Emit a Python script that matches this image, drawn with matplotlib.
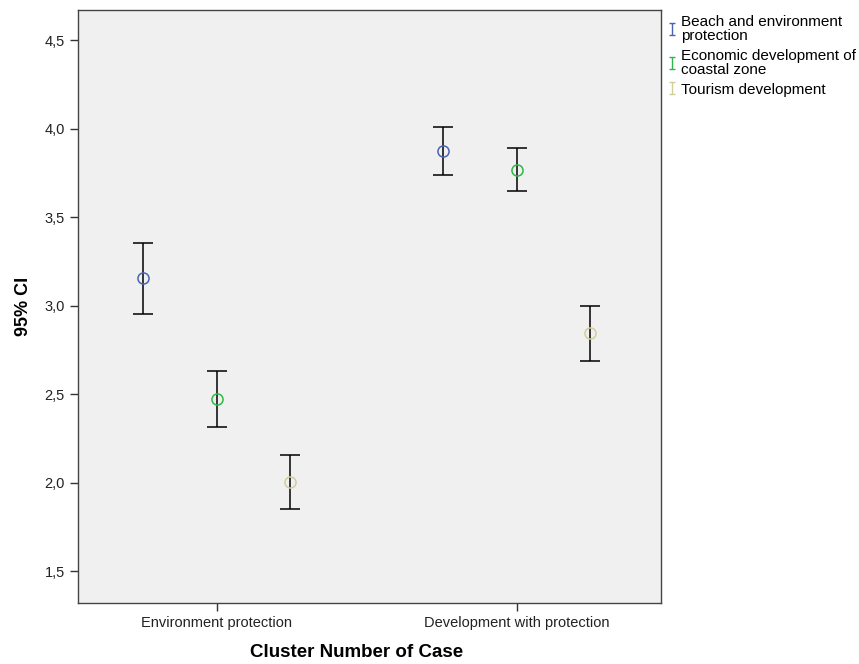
import numpy as np
import matplotlib
matplotlib.use("Agg")
import matplotlib.pyplot as plt
from matplotlib.lines import Line2D
from matplotlib.path import Path
from matplotlib.ticker import FuncFormatter

plt.rcParams['font.family'] = ['Liberation Sans', 'DejaVu Sans']

# data
clusters = ['Environment protection', 'Development with protection']
series = ['Beach and environment\nprotection', 'Economic development of\ncoastal zone', 'Tourism development']
colors = ['#4a63b4', '#2eb848', '#d3ce97']

means = [[3.155, 3.873],
         [2.472, 3.765],
         [2.003, 2.845]]
upper = [[3.353, 4.008],
         [2.630, 3.890],
         [2.155, 2.997]]
lower = [[2.952, 3.737],
         [2.314, 3.647],
         [1.850, 2.686]]

fig = plt.figure(figsize=(8.59, 6.64), dpi=100)
ax = fig.add_axes([0.0908, 0.0919, 0.6787, 0.893])
ax.set_facecolor('#f0f0f0')

offsets = [-0.245, 0.0, 0.245]
x = np.arange(len(clusters))
for i in range(len(series)):
    m = np.array(means[i])
    lo = m - np.array(lower[i])
    hi = np.array(upper[i]) - m
    ax.errorbar(x + offsets[i], m, yerr=[lo, hi], fmt='none', ecolor='black',
                elinewidth=1.1, capsize=7.2, capthick=1.1, zorder=2)
    ax.plot(x + offsets[i], m, 'o', mfc='none', mec=colors[i], ms=8, mew=1.1, zorder=3)

ax.set_xlim(-0.463, 1.48)
ax.set_ylim(1.32, 4.67)
ax.set_yticks([1.5, 2.0, 2.5, 3.0, 3.5, 4.0, 4.5])
ax.yaxis.set_major_formatter(FuncFormatter(lambda v, p: ('%.1f' % v).replace('.', ',')))
ax.set_xticks(x)
ax.set_xticklabels(clusters)
ax.tick_params(axis='both', direction='out', length=6, width=1, labelsize=10.5,
               colors='#333333', labelcolor='#222222')
for s in ax.spines.values():
    s.set_color('#444444')
    s.set_linewidth(1)

ax.set_ylabel('95% CI', fontsize=13, fontweight='bold', labelpad=9)
ax.set_xlabel('Cluster Number of Case', fontsize=13.5, fontweight='bold')
ax.xaxis.set_label_coords(0.477, -0.069, transform=ax.transAxes)
ax.xaxis.label.set_va('top')

# small I-beam legend symbol like the error bars
ibeam = Path([(-0.5, -1), (0.5, -1), (0, -1), (0, 1), (-0.5, 1), (0.5, 1)],
             [Path.MOVETO, Path.LINETO, Path.MOVETO, Path.LINETO, Path.MOVETO, Path.LINETO])
handles = [Line2D([], [], marker=ibeam, linestyle='none', color=c, ms=9, mew=1.0, mfc='none')
           for c in colors]
leg = ax.legend(handles, series, loc='upper left', bbox_to_anchor=(1.0, 1.0), frameon=False,
                fontsize=11, handlelength=0.8, handletextpad=0.2, labelspacing=0.4,
                borderaxespad=0.0, borderpad=0.3)
for t in leg.get_texts():
    t.set_linespacing(1.0)

fig.savefig('out.png', dpi=100)
